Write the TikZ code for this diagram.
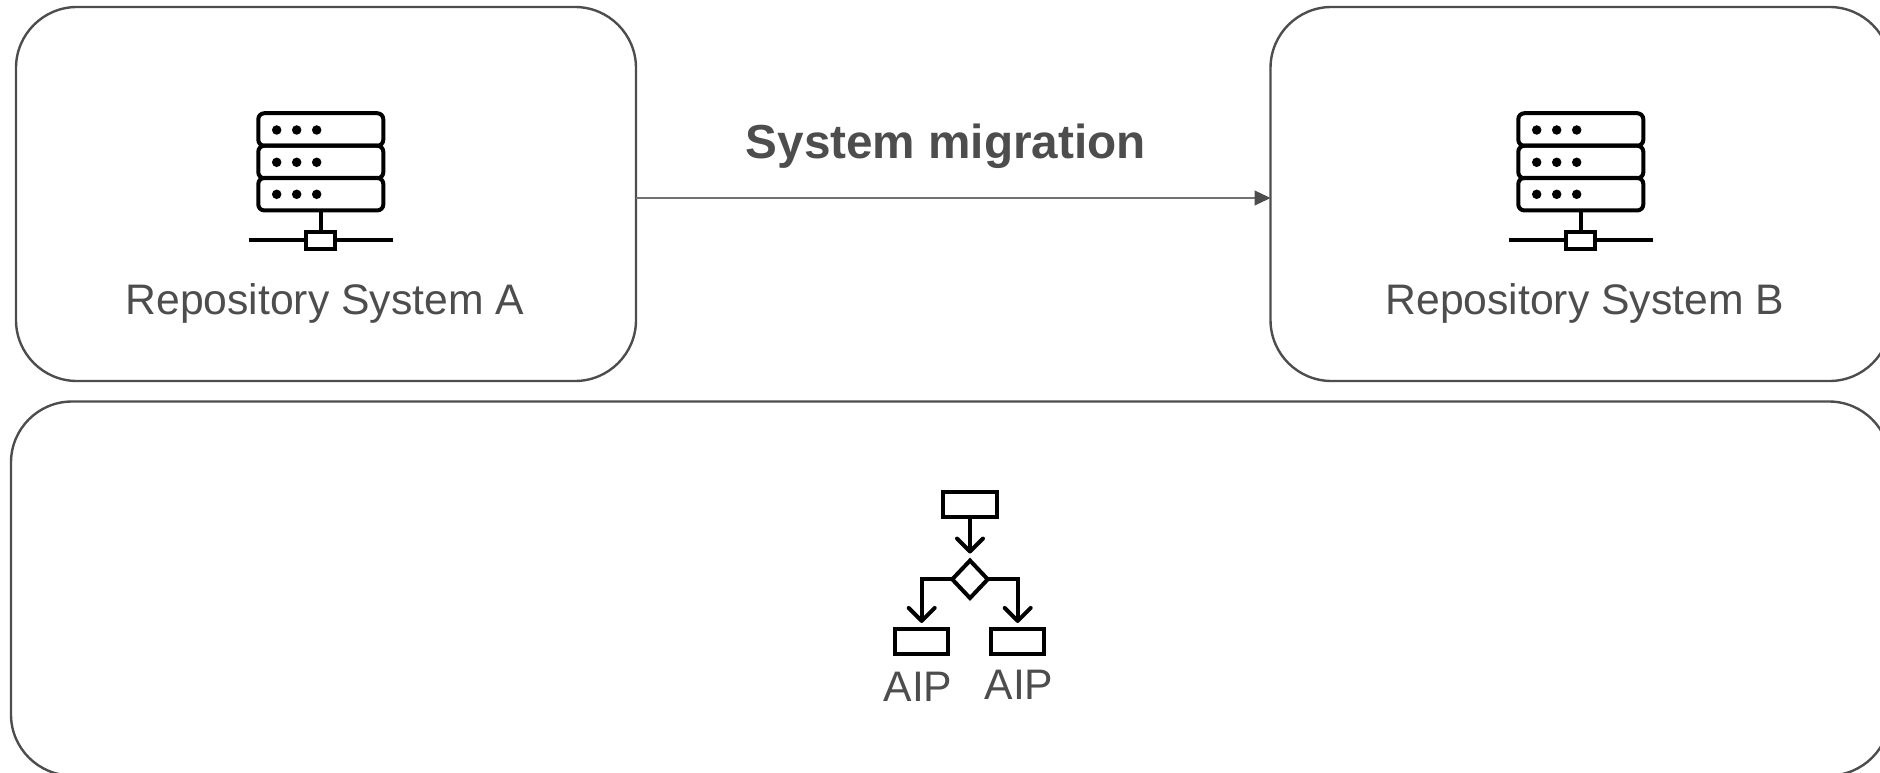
\documentclass[tikz,border=0pt]{standalone}
\usepackage{fontspec}
\setmainfont{Liberation Sans}
\usetikzlibrary{arrows.meta,shapes.geometric}
\definecolor{inkgrey}{HTML}{4D4D4D}
\tikzset{
  panel/.style={draw=inkgrey,line width=2.4pt,rounded corners=61pt,inner sep=0pt,outer sep=0pt,fill=none},
  rack/.style={draw=black,line width=4pt,rounded corners=6pt,minimum width=125pt,minimum height=32.5pt,inner sep=0pt,outer sep=0pt},
  led/.style={circle,fill=black,minimum size=9.5pt,inner sep=0pt,outer sep=0pt},
  plug/.style={draw=black,line width=4pt,minimum width=29pt,minimum height=17.5pt,inner sep=0pt,outer sep=0pt},
  icon/.style={draw=black,line width=4pt},
  flowbox/.style={draw=black,line width=4pt,minimum width=53.5pt,minimum height=24.5pt,inner sep=0pt,outer sep=0pt},
  flowdiamond/.style={draw=black,line width=4pt,minimum width=35.5pt,minimum height=37.5pt,inner sep=0pt,outer sep=0pt,diamond,aspect=1},
  flowarrow/.style={draw=black,line width=4pt,-{Straight Barb[length=13pt,width=26pt,line width=4pt,round]}},
  lbl/.style={text=inkgrey,font=\fontsize{42.7}{50}\selectfont,inner sep=0pt,outer sep=0pt,anchor=base},
  boldlbl/.style={text=inkgrey,font=\fontsize{47.7}{55}\selectfont\bfseries,inner sep=0pt,outer sep=0pt,anchor=base},
  migrate/.style={draw=inkgrey!80,line width=1.2pt,-{Triangle[length=16pt,width=15pt,fill=inkgrey,color=inkgrey]}},
}
\newcommand{\servericon}[2]{%
  \begin{scope}[xshift=#2pt]
    \node[rack] (#1r1) at (320.8,129.5) {};
    \node[rack] (#1r2) at (320.8,162) {};
    \node[rack] (#1r3) at (320.8,194.2) {};
    \foreach \yy/\rr in {130/1,162.3/2,194.3/3}{
      \node[led] (#1d\rr a) at (276.7,\yy) {};
      \node[led] (#1d\rr b) at (296.7,\yy) {};
      \node[led] (#1d\rr c) at (316.7,\yy) {};
    }
    \node[plug] (#1p) at (320.8,240.3) {};
    \coordinate (#1l) at (248.7,240.3);
    \coordinate (#1e) at (392.7,240.3);
    \draw[icon] (#1r3.south) -- (#1p.north);
    \draw[icon] (#1l) -- (#1p.west);
    \draw[icon] (#1p.east) -- (#1e);
  \end{scope}}
\begin{document}
\begin{tikzpicture}[x=1pt,y=-1pt]
  \useasboundingbox (0,0) rectangle (1880,773);
  \clip (0,0) rectangle (1880,773);
  \node[panel,minimum width=620pt,minimum height=374pt] (sysa) at (326,194) {};
  \node[panel,minimum width=620pt,minimum height=374pt] (sysb) at (1580.5,194) {};
  \node[panel,minimum width=1879pt,minimum height=374pt] (store) at (950.5,588.5) {};
  \coordinate (mfrom) at ([yshift=-4pt]sysa.east);
  \coordinate (mto) at ([yshift=-4pt]sysb.west);
  \draw[migrate] (mfrom) -- (mto);
  \node[boldlbl] (mig) at (945.8,159) {System migration};
  \servericon{a}{0}
  \servericon{b}{1260}
  \node[lbl] (la) at (324.8,314) {Repository System A};
  \node[lbl] (lb) at (1584.8,314) {Repository System B};
  \node[flowbox] (top) at (970,504.5) {};
  \node[flowdiamond] (dec) at (970,579.3) {};
  \node[flowbox] (left) at (921.7,641.7) {};
  \node[flowbox] (right) at (1017.7,641.7) {};
  \draw[flowarrow,shorten >=7pt] (top.south) -- (dec.north);
  \draw[flowarrow,shorten >=6.5pt] (dec.west) -| (left.north);
  \draw[flowarrow,shorten >=6.5pt] (dec.east) -| (right.north);
  \node[lbl] (aipl) at (918,701) {AIP};
  \node[lbl] (aipr) at (1019,699) {AIP};
\end{tikzpicture}
\end{document}
